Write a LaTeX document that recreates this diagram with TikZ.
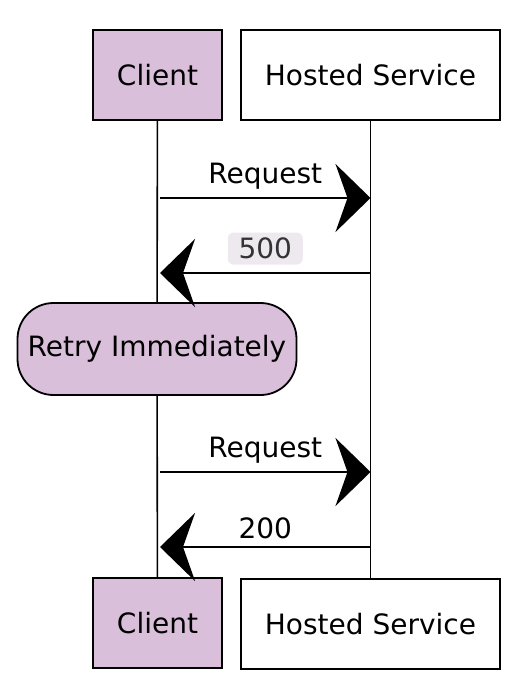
\documentclass[tikz,border=0pt]{standalone}
\usepackage{fontspec}
\setmainfont{DejaVu Sans}
\usetikzlibrary{arrows.meta}
\definecolor{clientfill}{HTML}{DABFDB}
\definecolor{labelfill}{HTML}{EEE8EF}
\tikzstyle{actor}=[draw=black,line width=1.8pt,minimum height=90pt,inner sep=0pt,font=\fontsize{28}{32}\selectfont]
\tikzstyle{client}=[actor,fill=clientfill,minimum width=129pt]
\tikzstyle{service}=[actor,fill=white,minimum width=259pt]
\tikzstyle{retry}=[actor,fill=clientfill,minimum width=279pt,minimum height=92pt,rounded corners=36pt]
\tikzstyle{lifeline}=[line width=1.6pt]
\tikzstyle{message}=[line width=2.8pt,-{Stealth[length=35pt,width=68pt,inset=12pt]}]
\tikzstyle{msglabel}=[above=4pt,inner sep=3pt,font=\fontsize{28}{32}\selectfont]
\tikzstyle{codelabel}=[msglabel,fill=labelfill,rounded corners=6pt,text=black!80,minimum width=75pt,minimum height=32pt,above=3pt]

\begin{document}
\begin{tikzpicture}[x=1pt,y=-1pt]
	\useasboundingbox (0,0) rectangle (530,692);
	%Actors
	\foreach \pos/\name in 	{{(157.5,75)/ctop},	{(157.5,623)/cbot}}
		\node[client] (\name) at \pos {Client};
	\foreach \pos/\name in 	{{(370.5,75)/stop},	{(370.5,624)/sbot}}
		\node[service] (\name) at \pos {Hosted Service};
	\node[retry] (retry) at (157,349) {Retry Immediately};
	%Lifelines
	\draw[lifeline] (ctop) -- (retry);
	\draw[lifeline] (retry) -- (cbot);
	\draw[lifeline] (stop) -- (sbot);
	%Message ends
	\foreach \y/\name in {198/1, 273/2, 472/3, 547/4}
	{
		\coordinate (c\name) at (160,\y);
		\coordinate (s\name) at (370.5,\y);
	}
	\draw[message] (c1) -- node[msglabel] (req1) {Request} (s1);
	\draw[message] (s2) -- node[codelabel] (code1) {500} (c2);
	\draw[message] (c3) -- node[msglabel] (req2) {Request} (s3);
	\draw[message] (s4) -- node[msglabel] (code2) {200} (c4);
\end{tikzpicture}
\end{document}
